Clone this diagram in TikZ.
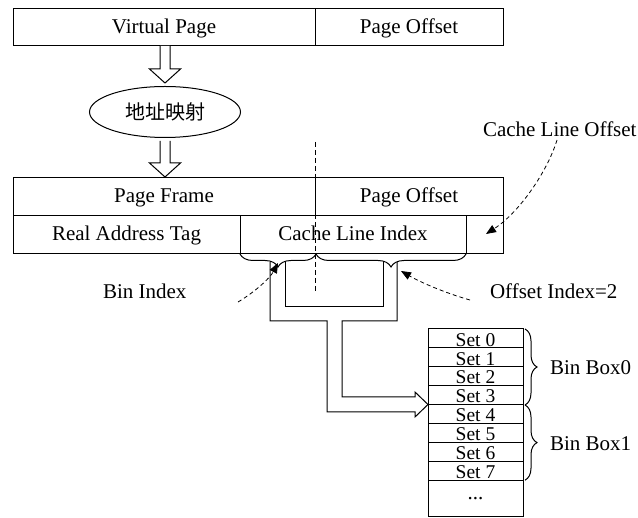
\documentclass[tikz,border=0pt]{standalone}
\usepackage{fontspec}
\setmainfont{Liberation Serif}
\newfontfamily\cjkfont{Noto Sans CJK SC}
\usetikzlibrary{shapes.geometric,arrows.meta,decorations.pathreplacing}
\begin{document}
\begin{tikzpicture}[x=1pt,y=-1pt,
  every node/.style={font=\fontsize{21}{24}\selectfont, inner sep=0pt, outer sep=0pt},
  cell/.style={draw, line width=1pt, rectangle, anchor=north west, text height=15pt, text depth=3pt},
  setrow/.style={draw, line width=1pt, rectangle, anchor=north west, minimum width=95, minimum height=18.9, text height=15.5pt, text depth=0pt, font=\fontsize{19.5}{20}\selectfont},
  label/.style={anchor=base west},
  hollow/.style={draw, line width=1pt, line join=miter, fill=white},
  dasharrow/.style={line width=0.8pt, dash pattern=on 4pt off 3pt, -{Triangle[length=10pt,width=8pt]}},
  bracedn/.style={line width=1pt, decorate, decoration={brace, amplitude=13pt}},
  bracert/.style={line width=1pt, decorate, decoration={brace, amplitude=12pt}}
]
\useasboundingbox (0,0) rectangle (638,518);

% top address
\node[cell, minimum width=302, minimum height=37] (vp) at (13,9) {Virtual Page};
\node[cell, minimum width=188, minimum height=37] (po) at (315,9) {Page Offset};

% mapping
\node[draw, line width=1pt, ellipse, minimum width=151, minimum height=51] (map) at (165,112) {\cjkfont\fontsize{20}{24}\selectfont 地址映射};

% hollow arrows down
\draw[hollow] (160,46) -- (160,69) -- (149.5,69) -- (165,83) -- (180.5,69) -- (170,69) -- (170,46);
\draw[hollow] (160,141) -- (160,163) -- (149.5,163) -- (165,177) -- (180.5,163) -- (170,163) -- (170,141);

% real address
\node[cell, minimum width=302, minimum height=38] (pf) at (13,178) {Page Frame};
\node[cell, minimum width=188, minimum height=38] (po2) at (315,178) {Page Offset};
\node[cell, minimum width=227, minimum height=38] (rat) at (13,216) {Real Address Tag};
\node[cell, minimum width=226, minimum height=38] (cli) at (240,216) {Cache Line Index};
\node[cell, minimum width=37, minimum height=38] (clo) at (466,216) {};

% dashed divider
\draw[line width=0.8pt, dash pattern=on 5pt off 3pt] (315,142) -- (315,292);

% braces under cache line index
\draw[bracedn] (316,254) -- (240,254);
\draw[bracedn] (466,254) -- (316,254);

% channels
\draw[line width=1pt, line join=miter] (270,262) -- (270,321) -- (327,321) -- (327,412) -- (415,412) -- (415,417) -- (428,404.5) -- (415,392) -- (415,397) -- (342,397) -- (342,321) -- (397,321) -- (397,262);
\draw[line width=1pt, line join=miter] (285,262) -- (285,307) -- (383,307) -- (383,262);

% set table
\foreach \i in {0,...,7} {
  \node[setrow] (set\i) at (428,{329+\i*18.9}) {Set \i};
}
\node[draw, line width=1pt, rectangle, anchor=north west, minimum width=95, minimum height=36.8] (more) at (428,480.2) {...};

% right braces
\draw[bracert] (525,329) -- (525,405);
\draw[bracert] (525,405) -- (525,480.2);
\node[label] (bb0) at (550,375) {Bin Box0};
\node[label] (bb1) at (550,451) {Bin Box1};

% labels and dashed arrows
\node[label] (lclo) at (483,137) {Cache Line Offset};
\node[label] (lbin) at (103,299) {Bin Index};
\node[label] (loff) at (490,299) {Offset Index=2};
\coordinate (s1) at (557,140);
\coordinate (e1) at (486,234);
\coordinate (s2) at (238,302);
\coordinate (e2) at (278,263);
\coordinate (s3) at (470,300);
\coordinate (e3) at (401,271);
\draw[dasharrow] (s1) .. controls (548,170) and (520,212) .. (e1);
\draw[dasharrow] (s2) .. controls (255,292) and (270,278) .. (e2);
\draw[dasharrow] (s3) .. controls (445,293) and (420,282) .. (e3);
\end{tikzpicture}
\end{document}
